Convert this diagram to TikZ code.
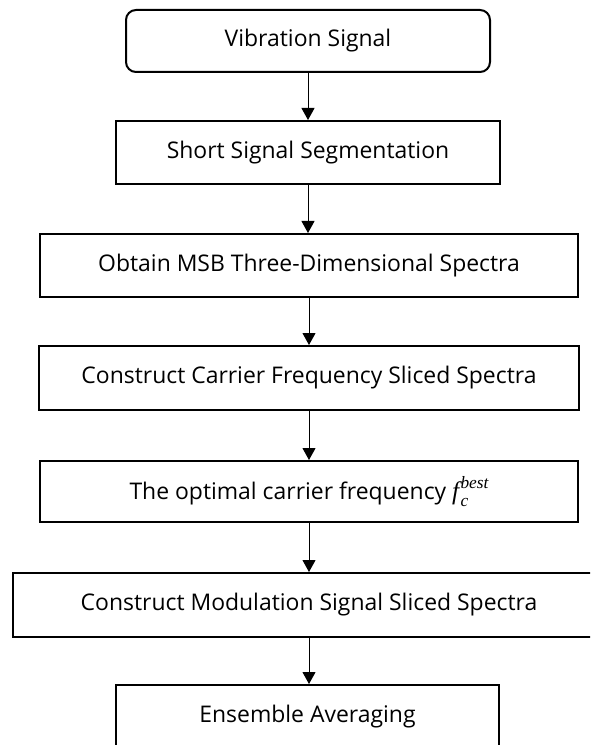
\documentclass[tikz,border=0pt]{standalone}
\usepackage{fontspec}
\setmainfont{Open Sans}
\newfontfamily\varfont{Liberation Serif}
\usetikzlibrary{arrows.meta}
% italic symbol f with subscript c and superscript best
\newcommand{\fcbest}{{\varfont\itshape\fontsize{19}{19}\selectfont f}\hspace{1pt}%
  \rlap{\raisebox{-0.32em}{\varfont\itshape\fontsize{13}{13}\selectfont c}}%
  \raisebox{0.5em}{\varfont\itshape\fontsize{13}{13}\selectfont best}}
\begin{document}
\begin{tikzpicture}[x=0.75pt,y=-0.75pt,
  box/.style={draw, line width=1.5pt, inner sep=0pt, align=center,
    font=\fontsize{17.2}{20}\selectfont},
  flow/.style={-{Triangle[width=9.75pt,length=9pt]}, line width=0.75pt}]
\clip (0,0) rectangle (590,745);
% process steps, top to bottom
\node[box, rounded corners=7.5pt, minimum width=273pt, minimum height=46.5pt] (vib) at (308,41) {Vibration Signal};
\node[box, minimum width=288pt, minimum height=47.25pt] (seg) at (308,152.5) {Short Signal Segmentation};
\node[box, minimum width=403.5pt, minimum height=47.25pt] (msb) at (309,265.5) {Obtain MSB Three-Dimensional Spectra};
\node[box, minimum width=405pt, minimum height=48pt] (car) at (309,378) {Construct Carrier Frequency Sliced Spectra};
\node[box, minimum width=403.5pt, minimum height=45.75pt] (opt) at (309,491.5) {The optimal carrier frequency \fcbest};
\node[box, minimum width=444pt, minimum height=48pt] (mod) at (309,605) {Construct Modulation Signal Sliced Spectra};
\node[box, minimum width=287.25pt, minimum height=47.25pt] (ens) at (307.5,716.5) {Ensemble Averaging};
% connectors
\draw[flow] (vib.south) -- (vib.south |- seg.north);
\draw[flow] (seg.south) -- (seg.south |- msb.north);
\draw[flow] (msb.south) -- (msb.south |- car.north);
\draw[flow] (car.south) -- (car.south |- opt.north);
\draw[flow] (opt.south) -- (opt.south |- mod.north);
\draw[flow] (mod.south) -- (mod.south |- ens.north);
\end{tikzpicture}
\end{document}
